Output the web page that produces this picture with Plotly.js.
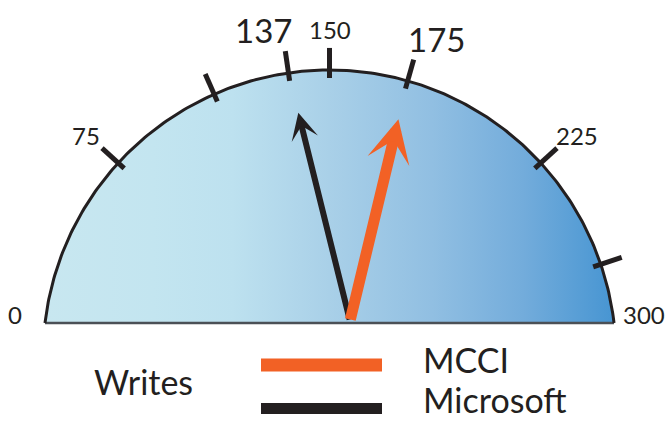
<!DOCTYPE html>
<html>
<head>
<meta charset="utf-8">
<script src="https://cdn.plot.ly/plotly-3.0.1.min.js"></script>
<style>
  html, body { margin: 0; padding: 0; background: #ffffff; }
  #chart { width: 668px; height: 421px; }
</style>
</head>
<body>
<div id="chart"></div>
<script>
// ----------------- data -----------------
const gaugeMin = 0;
const gaugeMax = 300;
const scaleLabels = [0, 75, 150, 225, 300];
const tickValues = [75, 112.5, 137, 150, 175, 225, 262.5];
const seriesNames = ['MCCI', 'Microsoft'];
const seriesValues = [175, 137];
const seriesColors = ['#f26125', '#231f20'];
const legendTitle = 'Writes';

// ----------------- layout constants (pixels) -----------------
const W = 668, H = 421;
const R_PX = 286.5;                 // dial radius
const CX_PX = 329.5, CY_PX = 356.5; // dial centre (below the floor line)
const FLOOR_PX = 323;               // floor line of the dial
const PIVOT_PX = [350, 321];        // needle pivot
const SWEEP_DEG = 190;              // angular sweep of the scale
const INK = '#231f20';
const FONT = 'Lato, "Open Sans", sans-serif';

const FLOOR = (CY_PX - FLOOR_PX) / R_PX;
const PIVOT = [(PIVOT_PX[0] - CX_PX) / R_PX, (CY_PX - PIVOT_PX[1]) / R_PX];
const TICK_IN = 0.972, TICK_OUT = 1.077;

function valueAngle(v) {
  const frac = (v - gaugeMin) / (gaugeMax - gaugeMin);
  return Math.PI / 2 + (SWEEP_DEG / 2) * Math.PI / 180 * (1 - 2 * frac);
}
function unitPoint(v, r) {
  const a = valueAngle(v);
  return [r * Math.cos(a), r * Math.sin(a)];
}

// dial outline (geometry of the dial, not data)
const aStart = Math.PI - Math.asin(FLOOR);
const aEnd = Math.asin(FLOOR);
const arcX = [], arcY = [];
const N = 240;
for (let i = 0; i <= N; i++) {
  const a = aStart + (aEnd - aStart) * i / N;
  arcX.push(Math.cos(a));
  arcY.push(Math.sin(a));
}

// tick marks
const tickX = [], tickY = [];
tickValues.forEach(v => {
  const p0 = unitPoint(v, TICK_IN), p1 = unitPoint(v, TICK_OUT);
  tickX.push(p0[0], p1[0], null);
  tickY.push(p0[1], p1[1], null);
});

const traces = [
  {
    type: 'scatter', mode: 'lines', x: arcX, y: arcY,
    fill: 'toself',
    fillgradient: {
      type: 'horizontal',
      colorscale: [
        [0.00, '#c8e7f0'],
        [0.19, '#c3e5f0'],
        [0.33, '#bde1ef'],
        [0.50, '#a9d0e8'],
        [0.68, '#91bfe2'],
        [0.84, '#73acdb'],
        [1.00, '#4795d2']
      ]
    },
    line: { width: 0 }, hoverinfo: 'skip'
  },
  {
    type: 'scatter', mode: 'lines',
    x: [arcX[0], arcX[N]], y: [FLOOR, FLOOR],
    line: { color: '#4b5056', width: 2.5 }, hoverinfo: 'skip'
  },
  {
    type: 'scatter', mode: 'lines', x: arcX, y: arcY,
    line: { color: INK, width: 3 }, hoverinfo: 'skip'
  },
  {
    type: 'scatter', mode: 'lines', x: tickX, y: tickY,
    line: { color: INK, width: 5 }, hoverinfo: 'skip', connectgaps: false
  }
];

const annotations = [];

// needles (Microsoft below MCCI)
const needleStyle = [
  { width: 11, size: 0.65 },
  { width: 6, size: 0.75 }
];
for (let i = seriesValues.length - 1; i >= 0; i--) {
  const target = unitPoint(seriesValues[i], 1);
  const f = 0.84;
  const tip = [PIVOT[0] + f * (target[0] - PIVOT[0]), PIVOT[1] + f * (target[1] - PIVOT[1])];
  annotations.push({
    x: tip[0], y: tip[1], xref: 'x', yref: 'y',
    ax: PIVOT[0], ay: PIVOT[1], axref: 'x', ayref: 'y',
    text: '', showarrow: true,
    arrowhead: 3, arrowsize: needleStyle[i].size, arrowwidth: needleStyle[i].width,
    arrowcolor: seriesColors[i]
  });
}

// scale labels: nearest edge of the label sits a fixed gap outside the dial
const xEnd = Math.sqrt(1 - FLOOR * FLOOR);
const LABEL_R = 1.11;
const SMALL = 24, BIG = 33, LEGEND = 34;
function scaleLabelAnn(v) {
  const txt = String(v);
  const a = valueAngle(v);
  const halfW = txt.length * SMALL * 0.505 / 2 / R_PX;
  const halfH = SMALL * 0.36 / R_PX;
  let p = [LABEL_R * Math.cos(a) + halfW * Math.cos(a), LABEL_R * Math.sin(a) + halfH * Math.sin(a)];
  if (p[1] < FLOOR + 0.03) {
    p = [Math.sign(Math.cos(a)) * (xEnd + 0.105), FLOOR + 0.028];
  }
  return {
    x: p[0], y: p[1], xref: 'x', yref: 'y',
    text: txt, showarrow: false,
    xanchor: 'center', yanchor: 'middle',
    font: { family: FONT, size: SMALL, color: INK }
  };
}
// value labels flank their tick, away from the dial centre
function valueLabelAnn(v) {
  const txt = String(v);
  const p = unitPoint(v, TICK_OUT);
  const left = p[0] < 0;
  return {
    x: p[0], y: p[1] + (BIG * 0.36 + 9) / R_PX, xref: 'x', yref: 'y',
    text: txt, showarrow: false,
    xanchor: left ? 'right' : 'left', yanchor: 'middle',
    xshift: left ? 9 : -8,
    font: { family: FONT, size: BIG, color: INK }
  };
}
scaleLabels.forEach(v => annotations.push(scaleLabelAnn(v)));
seriesValues.forEach(v => annotations.push(valueLabelAnn(v)));

// legend (drawn manually)
const px = x => x / W;
const py = y => 1 - y / H;
const shapes = [];
const legendBarY = [365, 408.5];
const legendBarW = [13, 11];
const legendTextY = [359, 399];
seriesNames.forEach((name, i) => {
  shapes.push({
    type: 'line', xref: 'paper', yref: 'paper',
    x0: px(261), x1: px(382), y0: py(legendBarY[i]), y1: py(legendBarY[i]),
    line: { color: seriesColors[i], width: legendBarW[i] }
  });
  annotations.push({
    x: px(421), y: py(legendTextY[i]), xref: 'paper', yref: 'paper',
    text: name, showarrow: false, xanchor: 'left', yanchor: 'middle',
    font: { family: FONT, size: LEGEND, color: INK }
  });
});
annotations.push({
  x: px(92), y: py(381), xref: 'paper', yref: 'paper',
  text: legendTitle, showarrow: false, xanchor: 'left', yanchor: 'middle',
  font: { family: FONT, size: LEGEND, color: INK }
});

const layout = {
  width: W, height: H,
  margin: { l: 0, r: 0, t: 0, b: 0, pad: 0 },
  paper_bgcolor: '#ffffff', plot_bgcolor: '#ffffff',
  showlegend: false, hovermode: false,
  xaxis: { range: [(0 - CX_PX) / R_PX, (W - CX_PX) / R_PX], visible: false, fixedrange: true },
  yaxis: { range: [(CY_PX - H) / R_PX, CY_PX / R_PX], visible: false, fixedrange: true },
  annotations: annotations,
  shapes: shapes
};

Plotly.newPlot('chart', traces, layout, { displayModeBar: false, staticPlot: true });
</script>
</body>
</html>
